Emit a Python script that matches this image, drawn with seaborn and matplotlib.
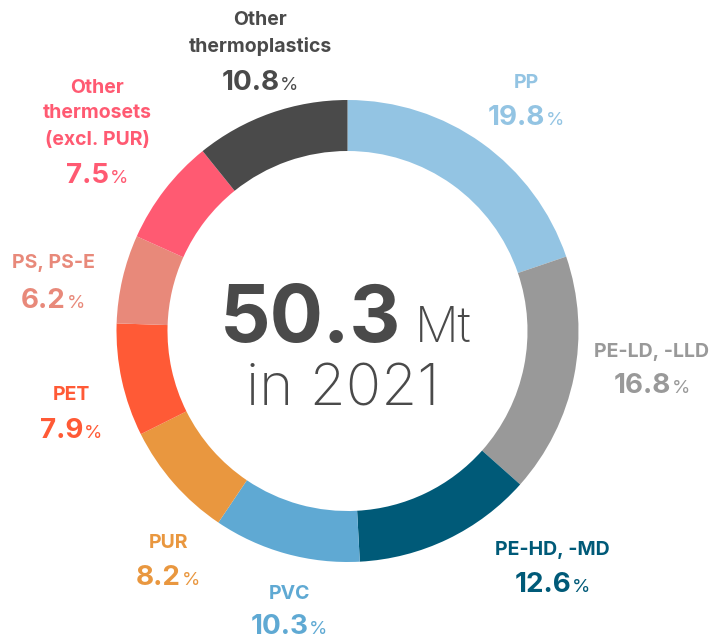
import matplotlib
matplotlib.use("Agg")
import matplotlib.pyplot as plt
import seaborn as sns

# ---- data ----
categories = ["PP", "PE-LD, -LLD", "PE-HD, -MD", "PVC", "PUR", "PET",
              "PS, PS-E", "Other\nthermosets\n(excl. PUR)", "Other\nthermoplastics"]
shares = [19.8, 16.8, 12.6, 10.3, 8.2, 7.9, 6.2, 7.5, 10.8]
share_labels = ["19.8", "16.8", "12.6", "10.3", "8.2", "7.9", "6.2", "7.5", "10.8"]
total_value = "50.3"
total_unit = "Mt"
year_label = "in 2021"

# ---- style ----
sns.set_theme(style="white")
plt.rcParams["font.family"] = ["Inter", "DejaVu Sans"]
hex_colors = ["#93C4E3", "#999999", "#005A78", "#5FA9D3", "#E9973F",
              "#FF5A36", "#E8897A", "#FF5A72", "#4A4A4A"]
palette = sns.color_palette(hex_colors)

W, H = 717, 641
fig = plt.figure(figsize=(W / 100, H / 100), dpi=100)
ax = fig.add_axes([0, 0, 1, 1])
ax.set_xlim(0, W)
ax.set_ylim(0, H)
ax.set_aspect("equal")
ax.axis("off")

def Y(y):
    return H - y

cx, cy, R, width = 347.5, 331, 231, 51
ax.pie(shares, colors=palette, startangle=90, counterclock=False,
       center=(cx, Y(cy)), radius=R, frame=True,
       wedgeprops=dict(width=width, linewidth=0.6, edgecolor="none"))
ax.set_xlim(0, W)
ax.set_ylim(0, H)
ax.axis("off")

# label layout (image pixel coords: name line centers, number center)
layout = [
    (526, [83], 115),
    (652, [352], 383),
    (552, [550], 582),
    (289, [594], 624),
    (168, [543], 575),
    (71, [395], 428),
    (53, [263], 298),
    (97, [88, 113, 140], 173),
    (260, [20, 47], 80),
]

fig.canvas.draw()
renderer = fig.canvas.get_renderer()

name_fs = 14
num_fs = 20
pct_fs = 13.5

for cat, lab, col, (x, ys, ny) in zip(categories, share_labels, palette, layout):
    lines = cat.split("\n")
    for line, yy in zip(lines, ys):
        ax.text(x, Y(yy), line, color=col, fontsize=name_fs, fontweight="bold",
                ha="center", va="center")
    # number + smaller percent sign, centered together
    t1 = ax.text(0, Y(ny), lab, color=col, fontsize=num_fs, fontweight="bold",
                 ha="left", va="baseline")
    t2 = ax.text(0, Y(ny), "%", color=col, fontsize=pct_fs, fontweight="normal",
                 ha="left", va="baseline")
    w1 = t1.get_window_extent(renderer).width
    w2 = t2.get_window_extent(renderer).width
    gap = 0.5
    total = w1 + gap + w2
    x0 = x - total / 2
    base = Y(ny) - num_fs * 100 / 72 * 0.36
    t1.set_position((x0, base))
    t2.set_position((x0 + w1 + gap, base))

# center text
c1 = ax.text(220, Y(342), total_value, color="#4A4A4A", fontsize=57,
             fontweight="bold", ha="left", va="baseline")
c1w = c1.get_window_extent(renderer).width
ax.text(220 + c1w + 14, Y(342), total_unit, color="#4A4A4A", fontsize=35,
        fontweight="light", ha="left", va="baseline")
ax.text(343, Y(405), year_label, color="#4A4A4A", fontsize=42,
        fontweight="light", ha="center", va="baseline")

fig.savefig("out.png", dpi=100, facecolor="white")
